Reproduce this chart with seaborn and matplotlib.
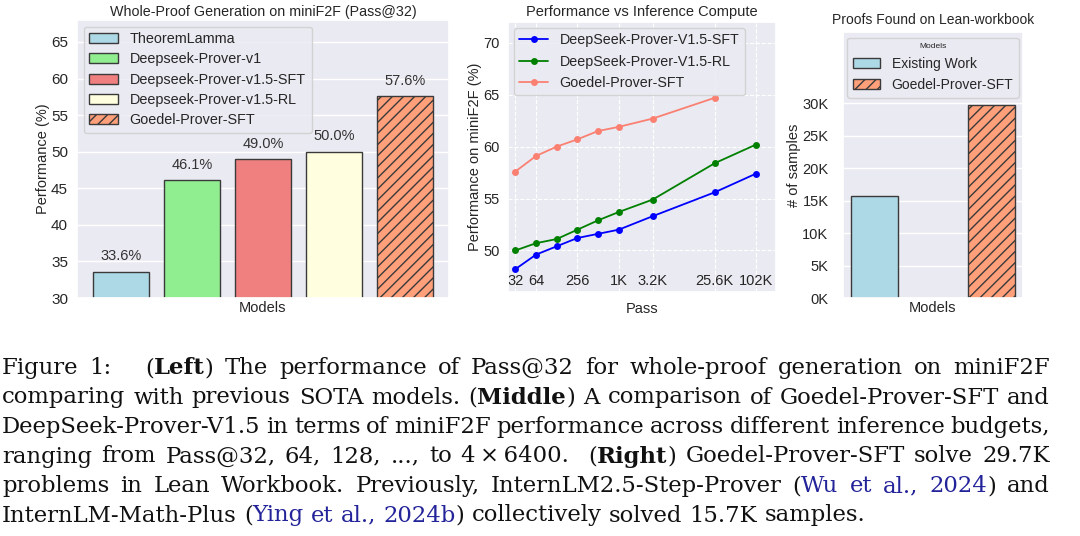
import matplotlib
matplotlib.use("Agg")
import matplotlib.pyplot as plt
import seaborn as sns
import pandas as pd
import numpy as np
from matplotlib.ticker import FuncFormatter

# ---------------- data ----------------
left_models = ["TheoremLamma", "Deepseek-Prover-v1", "Deepseek-Prover-v1.5-SFT",
               "Deepseek-Prover-v1.5-RL", "Goedel-Prover-SFT"]
left_values = [33.6, 46.1, 49.0, 50.0, 57.6]
left_colors = ["#ADD8E6", "#90EE90", "#F08080", "#FFFFE0", "#FFA07A"]

passes = [32, 64, 128, 256, 512, 1024, 3200, 25600, 102400]
sft_values = [48.2, 49.6, 50.4, 51.2, 51.6, 52.0, 53.3, 55.6, 57.4]
rl_values = [50.0, 50.7, 51.1, 52.0, 52.9, 53.7, 54.9, 58.4, 60.2]
goedel_passes = [32, 64, 128, 256, 512, 1024, 3200, 25600]
goedel_values = [57.6, 59.1, 60.0, 60.7, 61.5, 61.9, 62.7, 64.7]
pass_ticks = [32, 64, 256, 1024, 3200, 25600, 102400]
pass_tick_labels = ["32", "64", "256", "1K", "3.2K", "25.6K", "102K"]

right_models = ["Existing Work", "Goedel-Prover-SFT"]
right_values = [15700, 29700]
right_colors = ["#ADD8E6", "#FFA07A"]

# ---------------- style ----------------
sns.set_theme(style="darkgrid")
plt.rcParams["font.family"] = ["Liberation Sans", "DejaVu Sans"]

W, H = 1080, 536
fig = plt.figure(figsize=(W / 100, H / 100), dpi=100)

def ax_px(x0, y0, x1, y1):
    return fig.add_axes([x0 / W, 1 - y1 / H, (x1 - x0) / W, (y1 - y0) / H])

edge = "#3a3a3a"

# ---------------- left panel ----------------
ax1 = ax_px(77, 20, 449, 298)
df1 = pd.DataFrame({"model": left_models, "value": left_values})
sns.barplot(data=df1, x="model", y="value", hue="model", palette=left_colors,
            hue_order=left_models, order=left_models, width=0.8,
            edgecolor=edge, linewidth=1.0, legend=False, ax=ax1, saturation=1)
bars1 = [c.patches[0] for c in ax1.containers]
bars1[-1].set_hatch("///")
for c in ax1.containers:
    ax1.bar_label(c, fmt="%.1f%%", padding=6, fontsize=10.5, color="#333333")
ax1.set_ylim(30, 68)
ax1.set_xlim(-0.62, 4.62)
ax1.set_yticks([30, 35, 40, 45, 50, 55, 60, 65])
ax1.set_xticks([])
ax1.set_xlabel("Models", fontsize=10.5, labelpad=2)
ax1.set_ylabel("Performance (%)", fontsize=10.5, labelpad=1)
ax1.set_title("Whole-Proof Generation on miniF2F (Pass@32)", fontsize=10.3, pad=3)
ax1.tick_params(axis="y", labelsize=11, pad=0.5)
ax1.legend(handles=bars1, labels=left_models, loc="upper left", fontsize=10.4,
           handlelength=2.0, borderaxespad=0.45, labelspacing=0.43)

# ---------------- middle panel ----------------
ax2 = ax_px(508, 22, 776, 292)
sns.lineplot(x=passes, y=sft_values, color="blue", marker="o", markersize=5,
             markeredgewidth=0, linewidth=1.3, label="DeepSeek-Prover-V1.5-SFT",
             estimator=None, ax=ax2)
sns.lineplot(x=passes, y=rl_values, color="green", marker="o", markersize=5,
             markeredgewidth=0, linewidth=1.3, label="DeepSeek-Prover-V1.5-RL",
             estimator=None, ax=ax2)
sns.lineplot(x=goedel_passes, y=goedel_values, color="#FA8072", marker="o",
             markersize=5, markeredgewidth=0, linewidth=1.3,
             label="Goedel-Prover-SFT", estimator=None, ax=ax2)
ax2.set_xscale("log", base=2)
ax2.set_xlim(25, 200000)
ax2.set_ylim(46.0, 72.0)
ax2.set_xticks(pass_ticks)
ax2.set_xticklabels(pass_tick_labels)
ax2.minorticks_off()
ax2.set_yticks([50, 55, 60, 65, 70])
ax2.tick_params(axis="x", pad=-19, labelsize=10.5)
ax2.tick_params(axis="y", labelsize=10.5, pad=-0.2)
ax2.grid(True, linestyle="--", color="white", linewidth=0.8)
ax2.set_xlabel("Pass", fontsize=10.5, labelpad=7)
ax2.set_ylabel("Performance on miniF2F (%)", fontsize=10.5, labelpad=1)
ax2.set_title("Performance vs Inference Compute", fontsize=10.5, pad=4)
ax2.legend(loc="upper left", fontsize=10.3, borderaxespad=0.4)

# ---------------- right panel ----------------
ax3 = ax_px(843, 32, 1023, 298)
df3 = pd.DataFrame({"model": right_models, "value": right_values})
sns.barplot(data=df3, x="model", y="value", hue="model", palette=right_colors,
            hue_order=right_models, order=right_models, width=0.4,
            edgecolor=edge, linewidth=1.0, legend=False, ax=ax3, saturation=1)
bars3 = [c.patches[0] for c in ax3.containers]
bars3[-1].set_hatch("///")
ax3.set_ylim(0, 41000)
ax3.set_xlim(-0.27, 1.27)
ax3.set_yticks([0, 5000, 10000, 15000, 20000, 25000, 30000])
ax3.yaxis.set_major_formatter(FuncFormatter(lambda v, p: f"{v / 1000:.0f}K"))
ax3.set_xticks([])
ax3.set_xlabel("Models", fontsize=10.5, labelpad=2)
ax3.set_ylabel("# of samples", fontsize=10.5, labelpad=1)
ax3.set_title("Proofs Found on Lean-workbook", fontsize=10, pad=6)
ax3.tick_params(axis="y", labelsize=10.5, pad=4.5)
ax3.legend(handles=bars3, labels=right_models, title="Models", loc="upper center",
           fontsize=10, title_fontsize=6, borderaxespad=0.4)

# ---------------- caption (justified) ----------------
N, B, L = "normal", "bold", "link"
caption_lines = [
    [("Figure 1:   (", N), ("Left", B), (") The performance of Pass@32 for whole-proof generation on miniF2F", N)],
    [("comparing with previous SOTA models. (", N), ("Middle", B), (") A comparison of Goedel-Prover-SFT and", N)],
    [("DeepSeek-Prover-V1.5 in terms of miniF2F performance across different inference budgets,", N)],
    [("ranging from Pass@32, 64, 128, ..., to 4\u2009\u00d7\u20096400.  (", N), ("Right", B), (") Goedel-Prover-SFT solve 29.7K", N)],
    [("problems in Lean Workbook. Previously, InternLM2.5-Step-Prover (", N), ("Wu et al., 2024", L), (") and", N)],
    [("InternLM-Math-Plus (", N), ("Ying et al., 2024b", L), (") collectively solved 15.7K samples.", N)],
]
baselines = [374, 403.5, 433, 462.5, 492, 521.5]
cap_font = ["DejaVu Serif"]
x_left, x_right = 2, 1050
last_line_right = 868
link_color = "#23239a"

fig.canvas.draw()
renderer = fig.canvas.get_renderer()

def measure(s, weight, size):
    t = fig.text(0, 0, s, fontsize=size, family=cap_font, fontweight=weight)
    w = t.get_window_extent(renderer).width
    t.remove()
    return w

def split_words(segs):
    words = []      # list of (gap_count_before, [(piece, kind), ...])
    cur, gaps = [], 0
    for text, kind in segs:
        parts = text.split(" ")
        for i, p in enumerate(parts):
            if i > 0:
                if cur:
                    words.append((gaps, cur))
                    cur, gaps = [], 0
                gaps += 1
            if p:
                cur.append((p, kind))
    if cur:
        words.append((gaps, cur))
    return words

def natural_width(segs, size):
    sp = measure("a a", "normal", size) - measure("aa", "normal", size)
    tot = 0
    for i, (g, w) in enumerate(split_words(segs)):
        if i > 0:
            tot += g * sp
        tot += sum(measure(p, "bold" if k == B else "normal", size) for p, k in w)
    return tot

s0 = 14.0
nw = natural_width(caption_lines[-1], s0)
cap_size = s0 * (last_line_right - x_left) / nw
space_w = measure("a a", "normal", cap_size) - measure("aa", "normal", cap_size)

for li, (segs, yb) in enumerate(zip(caption_lines, baselines)):
    words = split_words(segs)
    widths = [[measure(p, "bold" if k == B else "normal", cap_size) for p, k in w]
              for g, w in words]
    total = sum(sum(ws) for ws in widths)
    ngaps = sum(g for g, w in words[1:])
    last = li == len(caption_lines) - 1
    unit = space_w if last else (x_right - x_left - total) / ngaps
    x = x_left
    for i, ((g, w), ws) in enumerate(zip(words, widths)):
        if i > 0:
            x += g * unit
        for (p, k), pw in zip(w, ws):
            fig.text(x / W, 1 - yb / H, p, fontsize=cap_size, family=cap_font,
                     fontweight="bold" if k == B else "normal",
                     color=link_color if k == L else "#111111",
                     ha="left", va="baseline")
            x += pw

fig.savefig("out.png", dpi=100)
